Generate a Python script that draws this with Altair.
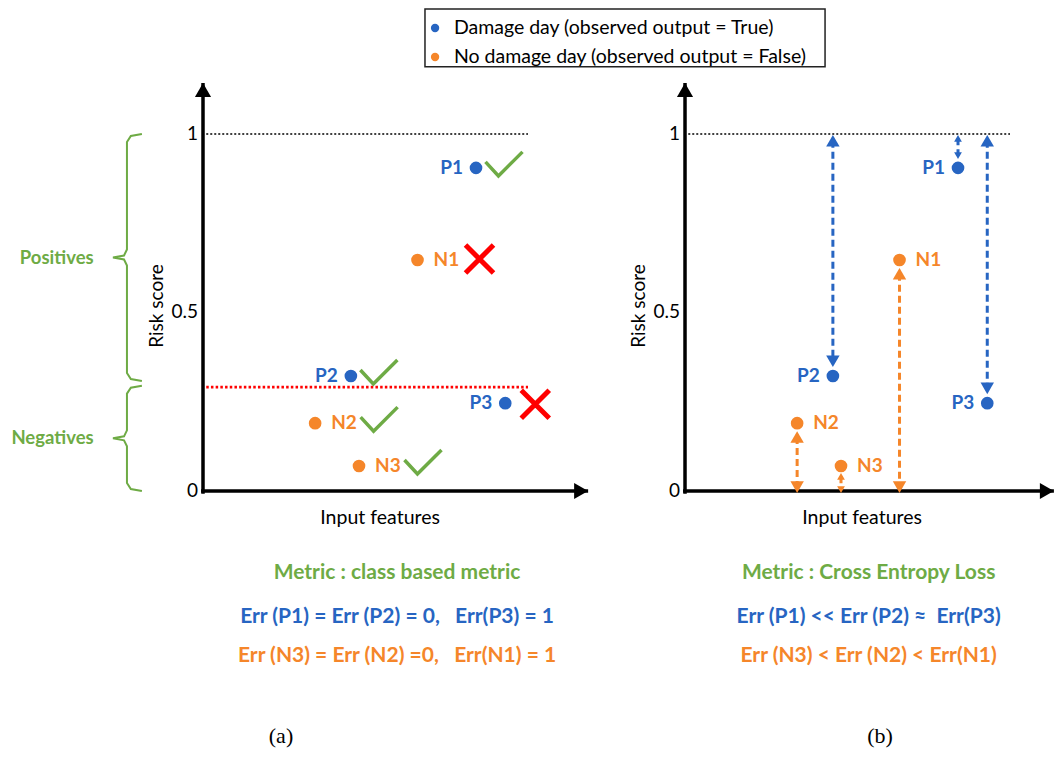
import altair as alt
import pandas as pd

# ---------------- data ----------------
names = ["P1", "P2", "P3", "N1", "N2", "N3"]
observed = [True, True, True, False, False, False]
features = [0.84, 0.455, 0.93, 0.66, 0.345, 0.48]
risk = [0.905, 0.322, 0.246, 0.647, 0.190, 0.070]
threshold = 0.291

legend_labels = ["Damage day (observed output = True)",
                 "No damage day (observed output = False)"]
tick_values = [0, 0.5, 1]
tick_labels = ["0", "0.5", "1"]
brace_labels = ["Positives", "Negatives"]
axis_titles = ["Risk score", "Input features"]
left_texts = ["Metric : class based metric",
              "Err (P1) = Err (P2) = 0,\u00a0\u00a0 Err(P3) = 1",
              "Err (N3) = Err (N2) =0,\u00a0\u00a0 Err(N1) = 1"]
right_texts = ["Metric : Cross Entropy Loss",
               "Err (P1) << Err (P2) \u2248\u00a0 Err(P3)",
               "Err (N3) < Err (N2) < Err(N1)"]
panel_tags = ["(a)", "(b)"]

# ---------------- styling / layout ----------------
BLUE = "#2765C2"
ORANGE = "#F5862A"
GREEN = "#6EAB45"
RED = "#FF0000"
FONT = "Lato"

W, H = 1048, 740
PX_Y = 357.0
Y_MAX = 1.3529
Y_DOM = [Y_MAX - H / PX_Y, Y_MAX]
XL_DOM = [-0.6, 2.6246]
XR_DOM = [-2.0831, 1.1415]
Y_TIP = 1.1428
TEXT_Y = [-0.2297, -0.353, -0.462]
TEXT_COLORS = [GREEN, BLUE, ORANGE]

pts = pd.DataFrame({
    "name": names,
    "observed": observed,
    "feature": features,
    "risk": risk,
    "cls": [legend_labels[0] if o else legend_labels[1] for o in observed],
})

color_enc = alt.Color("cls:N", scale=alt.Scale(domain=legend_labels, range=[BLUE, ORANGE]), legend=None)


def make_xy(dom):
    def X(f):
        return alt.X(f, type="quantitative", scale=alt.Scale(domain=dom, nice=False, zero=False), axis=None)

    def Y(f):
        return alt.Y(f, type="quantitative", scale=alt.Scale(domain=Y_DOM, nice=False, zero=False), axis=None)
    return X, Y


def common_layers(X, Y, x_tip, texts, text_x, tag, tag_x):
    L = []
    # axes lines
    axes = pd.DataFrame({"x": [0, -0.006], "x2": [0, x_tip], "y": [-0.008, 0], "y2": [Y_TIP, 0]})
    L.append(alt.Chart(axes).mark_rule(color="black", strokeWidth=3.5).encode(
        x=X("x"), x2="x2", y=Y("y"), y2="y2"))
    up = pd.DataFrame({"x": [0], "y": [Y_TIP]})
    L.append(alt.Chart(up).mark_point(shape="triangle-up", size=260, filled=True, opacity=1,
                                      color="black", yOffset=7).encode(x=X("x"), y=Y("y")))
    rt = pd.DataFrame({"x": [x_tip], "y": [0]})
    L.append(alt.Chart(rt).mark_point(shape="triangle-right", size=260, filled=True, opacity=1,
                                      color="black", xOffset=-7).encode(x=X("x"), y=Y("y")))
    # dotted line at 1
    one = pd.DataFrame({"x": [0.01], "x2": [1.0], "y": [1.0]})
    L.append(alt.Chart(one).mark_rule(color="black", strokeWidth=1.5, strokeDash=[2, 2]).encode(
        x=X("x"), x2="x2", y=Y("y")))
    # tick labels
    ticks = pd.DataFrame({"x": [-0.015] * 3, "y": tick_values, "t": tick_labels})
    L.append(alt.Chart(ticks).mark_text(align="right", baseline="middle", font=FONT, fontSize=19,
                                        color="black").encode(x=X("x"), y=Y("y"), text="t:N"))
    # axis titles
    yt = pd.DataFrame({"x": [-0.143], "y": [0.518], "t": [axis_titles[0]]})
    L.append(alt.Chart(yt).mark_text(angle=270, align="center", baseline="middle", font=FONT,
                                     fontSize=19, color="black").encode(x=X("x"), y=Y("y"), text="t:N"))
    xt = pd.DataFrame({"x": [0.545], "y": [-0.075], "t": [axis_titles[1]]})
    L.append(alt.Chart(xt).mark_text(align="center", baseline="middle", font=FONT,
                                     fontSize=19.5, color="black").encode(x=X("x"), y=Y("y"), text="t:N"))
    # metric texts
    mt = pd.DataFrame({"x": [text_x] * 3, "y": TEXT_Y, "t": texts, "c": TEXT_COLORS})
    L.append(alt.Chart(mt).mark_text(align="center", baseline="middle", font=FONT, fontSize=21,
                                     fontWeight="bold").encode(
        x=X("x"), y=Y("y"), text="t:N", color=alt.Color("c:N", scale=None)))
    tg = pd.DataFrame({"x": [tag_x], "y": [-0.686], "t": [tag]})
    L.append(alt.Chart(tg).mark_text(align="center", baseline="middle", font="Liberation Serif",
                                     fontSize=22, color="black").encode(x=X("x"), y=Y("y"), text="t:N"))
    return L


def point_layers(X, Y):
    base = alt.Chart(pts)
    L = [base.mark_circle(size=160, opacity=1).encode(x=X("feature"), y=Y("risk"), color=color_enc)]
    L.append(base.transform_filter("datum.observed").mark_text(
        align="right", baseline="middle", dx=-13, font=FONT, fontSize=19, fontWeight="bold").encode(
        x=X("feature"), y=Y("risk"), text="name:N", color=color_enc))
    L.append(base.transform_filter("!datum.observed").mark_text(
        align="left", baseline="middle", dx=16, font=FONT, fontSize=19, fontWeight="bold").encode(
        x=X("feature"), y=Y("risk"), text="name:N", color=color_enc))
    return L


# ---------------- left panel ----------------
XL, YL = make_xy(XL_DOM)
left = common_layers(XL, YL, 1.185, left_texts, 0.597, panel_tags[0], 0.24)

# legend box
lg_box = pd.DataFrame({"x": [0.683], "x2": [1.914], "y": [1.350], "y2": [1.188]})
left.append(alt.Chart(lg_box).mark_rect(fill="white", stroke="#222222", strokeWidth=1.5).encode(
    x=XL("x"), x2="x2", y=YL("y"), y2="y2"))
lg = pd.DataFrame({"x": [0.714, 0.714], "tx": [0.772, 0.772], "y": [1.297, 1.2157], "cls": legend_labels})
left.append(alt.Chart(lg).mark_circle(size=70, opacity=1).encode(x=XL("x"), y=YL("y"), color=color_enc))
left.append(alt.Chart(lg).mark_text(align="left", baseline="middle", font=FONT, fontSize=19.5,
                                    color="black").encode(x=XL("tx"), y=YL("y"), text="cls:N"))

# threshold line
thr = pd.DataFrame({"x": [0.01], "x2": [1.0], "y": [threshold]})
left.append(alt.Chart(thr).mark_rule(color=RED, strokeWidth=2.6, strokeDash=[2.5, 2.2]).encode(
    x=XL("x"), x2="x2", y=YL("y")))

# braces
bx = [-0.188, -0.222, -0.234, -0.234, -0.243, -0.277, -0.243, -0.234, -0.234, -0.222, -0.188]
rows = []
for gid, (top, bot) in enumerate([(1.0, threshold + 0.017), (threshold + 0.004, 0.0)]):
    mid = (top + bot) / 2
    yy = [top, top - 2 / PX_Y, top - 8 / PX_Y, mid + 8 / PX_Y, mid + 2 / PX_Y, mid,
          mid - 2 / PX_Y, mid - 8 / PX_Y, bot + 8 / PX_Y, bot + 2 / PX_Y, bot]
    for i, (a, b) in enumerate(zip(bx, yy)):
        rows.append({"x": a, "y": b, "g": gid, "o": i})
braces = pd.DataFrame(rows)
left.append(alt.Chart(braces).mark_line(color=GREEN, strokeWidth=2).encode(
    x=XL("x"), y=YL("y"), detail="g:N", order="o:Q"))
bl = pd.DataFrame({"x": [-0.450, -0.463],
                   "y": [(1.0 + threshold + 0.017) / 2, (threshold + 0.004) / 2],
                   "t": brace_labels})
left.append(alt.Chart(bl).mark_text(align="center", baseline="middle", font=FONT, fontSize=18.5,
                                    fontWeight="bold", color=GREEN).encode(x=XL("x"), y=YL("y"), text="t:N"))

left += point_layers(XL, YL)

# verdict marks
vbase = alt.Chart(pts).transform_calculate(correct=f"(datum.risk > {threshold}) == datum.observed")
CHECK = "M-1,-0.11L-0.3,0.65L1,-0.65"
CROSS = "M-1,-1L1,1M1,-1L-1,1"
for cond, shape, col, size, sw, xo, yo in [
    ("datum.correct && datum.observed", CHECK, GREEN, 1369, 3.5, 28, -4),
    ("datum.correct && !datum.observed", CHECK, GREEN, 1369, 3.5, 64, -4),
    ("!datum.correct && datum.observed", CROSS, RED, 784, 5, 30, 1),
    ("!datum.correct && !datum.observed", CROSS, RED, 784, 5, 62, -1),
]:
    left.append(vbase.transform_filter(cond).mark_point(
        shape=shape, size=size, filled=False, opacity=1, stroke=col, strokeWidth=sw,
        xOffset=xo, yOffset=yo).encode(x=XL("feature"), y=YL("risk")))

# ---------------- right panel ----------------
XR, YR = make_xy(XR_DOM)
right = common_layers(XR, YR, 1.135, right_texts, 0.565, panel_tags[1], 0.60)

abase = (alt.Chart(pts)
         .transform_calculate(top="datum.observed ? 1 : datum.risk")
         .transform_calculate(bot="datum.observed ? datum.risk : 0")
         .transform_calculate(len="datum.top - datum.bot"))

for cond, size, top_off, bot_off in [
    ("datum.observed && datum.len >= 0.12", 180, 1, -9),
    ("datum.observed && datum.len < 0.12", 60, 1, -9),
    ("!datum.observed && datum.len >= 0.12", 180, 8, 2),
    ("!datum.observed && datum.len < 0.12", 60, 7, 2),
]:
    h = 0.433 * size ** 0.5
    src = abase.transform_filter(cond)
    right.append(src.mark_rule(strokeWidth=3, strokeDash=[7, 4], yOffset=top_off + h,
                               y2Offset=bot_off - h).encode(
        x=XR("feature"), y=YR("top"), y2="bot", color=color_enc))
    right.append(src.mark_point(shape="triangle-up", size=size, filled=True, opacity=1,
                                yOffset=top_off + h).encode(
        x=XR("feature"), y=YR("top"), color=color_enc))
    right.append(src.mark_point(shape="triangle-down", size=size, filled=True, opacity=1,
                                yOffset=bot_off - h).encode(
        x=XR("feature"), y=YR("bot"), color=color_enc))

right += point_layers(XR, YR)

chart = (alt.layer(alt.layer(*left), alt.layer(*right))
         .resolve_scale(x="independent")
         .properties(width=W, height=H, padding=0,
                     autosize=alt.AutoSizeParams(type="none"),
                     background="white")
         .configure_view(strokeWidth=0))

chart.save("out.html", embed_options={"renderer": "svg", "actions": False})
